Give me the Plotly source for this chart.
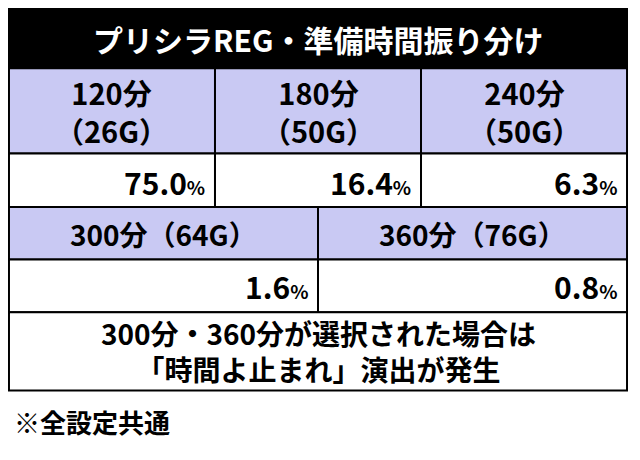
import plotly.graph_objects as go

title = "プリシラREG・準備時間振り分け"
row1_labels = ["120分<br>（26G）", "180分<br>（50G）", "240分<br>（50G）"]
row1_values = ["75.0", "16.4", "6.3"]
row2_labels = ["300分（64G）", "360分（76G）"]
row2_values = ["1.6", "0.8"]
note = "300分・360分が選択された場合は<br>「時間よ止まれ」演出が発生"
footer = "※全設定共通"

FONT = "Noto Sans CJK JP"
HEAD = "#c9c9f3"
W, H = 640, 460

fig = go.Figure()
shapes = []
ann = []


def cell(x0, x1, y0, y1, fill):
    shapes.append(dict(type="rect", x0=x0, x1=x1, y0=y0, y1=y1, fillcolor=fill,
                       line=dict(color="black", width=2), layer="below"))


def pct(text, x, y):
    ann.append(dict(x=x, y=y, xanchor="right", yanchor="middle", showarrow=False,
                    text=f"<b>{text}<span style='font-size:19px'>%</span></b>",
                    font=dict(family=FONT, size=30, color="black")))


# title bar
shapes.append(dict(type="rect", x0=0, x1=W, y0=0, y1=63, fillcolor="black", line=dict(width=0)))
ann.append(dict(x=W / 2, y=32, text=f"<b>{title}</b>", showarrow=False,
                font=dict(family=FONT, size=30, color="white")))

# first block
w3 = (W - 2) / 3
for i, (lab, val) in enumerate(zip(row1_labels, row1_values)):
    x0, x1 = 1 + i * w3, 1 + (i + 1) * w3
    cell(x0, x1, 63, 152, HEAD)
    cell(x0, x1, 152, 208, "white")
    ann.append(dict(x=(x0 + x1) / 2, y=108, text=f"<b>{lab}</b>", showarrow=False,
                    font=dict(family=FONT, size=29, color="black")))
    pct(val, x1 - 8, 182)

# second block
w2 = (W - 2) / 2
for i, (lab, val) in enumerate(zip(row2_labels, row2_values)):
    x0, x1 = 1 + i * w2, 1 + (i + 1) * w2
    cell(x0, x1, 208, 263, HEAD)
    cell(x0, x1, 263, 318, "white")
    ann.append(dict(x=(x0 + x1) / 2, y=236, text=f"<b>{lab}</b>", showarrow=False,
                    font=dict(family=FONT, size=28, color="black")))
    pct(val, x1 - 8, 291)

# note
cell(1, W - 1, 318, 400, "white")
ann.append(dict(x=W / 2, y=359, text=f"<b>{note}</b>", showarrow=False,
                font=dict(family=FONT, size=28, color="black")))
ann.append(dict(x=4, y=432, xanchor="left", text=f"<b>{footer}</b>", showarrow=False,
                font=dict(family=FONT, size=26, color="black")))

fig.update_layout(width=620, height=440, margin=dict(l=0, r=0, t=0, b=0),
                  paper_bgcolor="white", plot_bgcolor="white",
                  shapes=shapes, annotations=ann, showlegend=False,
                  xaxis=dict(range=[0, W], visible=False, fixedrange=True),
                  yaxis=dict(range=[H, 0], visible=False, fixedrange=True))
fig.write_html("out.html", config={"displayModeBar": False})
